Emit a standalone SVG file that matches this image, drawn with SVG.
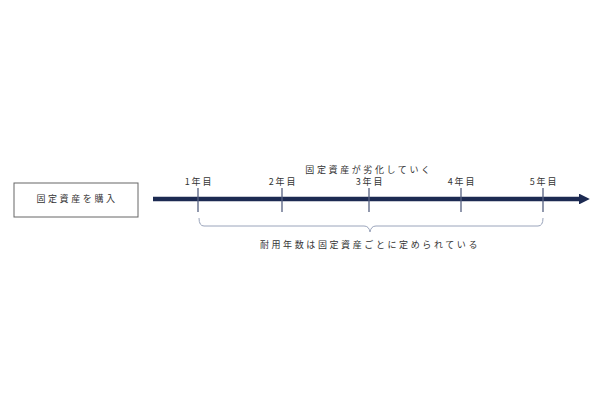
<svg xmlns="http://www.w3.org/2000/svg" width="600" height="400" viewBox="0 0 600 400">
<defs>
<style>
text{font-family:"Noto Sans CJK JP","Noto Sans CJK SC",sans-serif;font-size:9px;fill:#333;text-anchor:middle}
.lbl{letter-spacing:2.6px}
.yr{letter-spacing:1.8px}
.tick{stroke:#556080;stroke-width:1.3}
</style>
<marker id="ah" viewBox="0 0 10 10" refX="0" refY="5" markerWidth="2.4" markerHeight="2.4" orient="auto" markerUnits="strokeWidth">
<path d="M0,0 L10,5 L0,10 Z" fill="#1c2a52"/>
</marker>
</defs>
<rect width="600" height="400" fill="#fff"/>
<g id="node-buy">
<rect x="14" y="183" width="124" height="34" fill="#fff" stroke="#666" stroke-width="1"/>
<text class="lbl" x="77" y="202">固定資産を購入</text>
</g>
<g id="connectors">
<line x1="153" y1="199" x2="579" y2="199" stroke="#1c2a52" stroke-width="4.5" marker-end="url(#ah)"/>
<line class="tick" x1="198" y1="188" x2="198" y2="212"/>
<line class="tick" x1="282" y1="188" x2="282" y2="212"/>
<line class="tick" x1="369" y1="188" x2="369" y2="212"/>
<line class="tick" x1="461" y1="188" x2="461" y2="212"/>
<line class="tick" x1="543" y1="188" x2="543" y2="212"/>
<path d="M199,218 Q199,226 204,226 L364,226 Q369,226 370,232 Q371,226 376,226 L538,226 Q543,226 543,218" fill="none" stroke="#9aa4bb" stroke-width="1"/>
</g>
<g id="labels">
<text class="lbl" x="369" y="173">固定資産が劣化していく</text>
<text class="yr" x="199" y="185">1年目</text>
<text class="yr" x="283" y="185">2年目</text>
<text class="yr" x="370" y="185">3年目</text>
<text class="yr" x="462" y="185">4年目</text>
<text class="yr" x="544" y="185">5年目</text>
<text class="lbl" x="370" y="248">耐用年数は固定資産ごとに定められている</text>
</g>
</svg>
